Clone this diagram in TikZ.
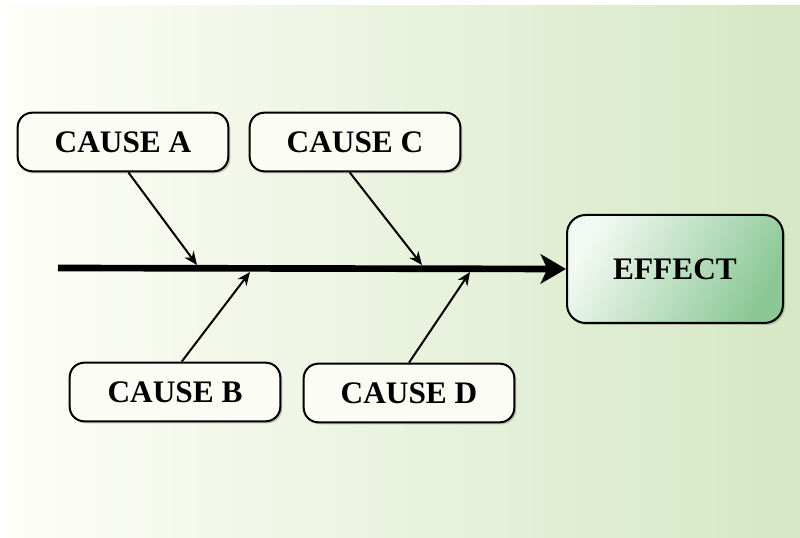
\documentclass[tikz,border=0pt]{standalone}
\usepackage{fontspec}
\setmainfont{Liberation Serif}
\usetikzlibrary{calc,shadows,arrows.meta}
\definecolor{bgleft}{HTML}{FEFEF8}
\definecolor{bgright}{HTML}{D5E7C4}
\definecolor{boxfill}{HTML}{FBFCF4}
\definecolor{effectlight}{HTML}{F2F9F2}
\definecolor{effectdark}{HTML}{8CC896}
\newcommand{\CauseW}{158pt}
\newcommand{\CauseH}{44pt}
\tikzset{Cause/.style={
    rounded corners=11pt,
    minimum width=\CauseW,
    minimum height=\CauseH,
    draw=black,
    line width=1.5pt,
    fill=boxfill,
    align=center,
    font=\bfseries\fontsize{23.5}{27}\selectfont,
    drop shadow={shadow xshift=1.5pt, shadow yshift=-1.5pt, opacity=0.35, fill=black!60},
    }
}

\begin{document}
\begin{tikzpicture}[x=0.75pt,y=-0.75pt,
    effect/.style={Cause,
    rounded corners=14pt,
    minimum width=162pt,
    minimum height=81pt,
    left color=effectlight,
    right color=effectdark,
    shading angle=60,
    },
    spine/.style={line width=5pt,-{Stealth[length=19pt,width=22pt,inset=5pt]}},
    bone/.style={line width=1.5pt,-{Stealth[length=10pt,width=8.5pt]}},
]
% background
\fill[white] (0,0) rectangle (800,538);
\shade[left color=bgleft,right color=bgright] (8,6) rectangle (800,538);
\useasboundingbox (0,0) rectangle (800,538);
% boxes
\node [Cause] (causeA) at (123,142) {CAUSE A};
\node [Cause] (causeC) at (355,142) {CAUSE C};
\node [Cause] (causeB) at (175,392) {CAUSE B};
\node [Cause] (causeD) at (409,393) {CAUSE D};
\node [effect] (effect) at (675,269) {EFFECT};
% spine and bones
\coordinate (tail) at (58,268);
\coordinate (hitA) at (197,265);
\coordinate (hitC) at (422,265);
\coordinate (hitB) at (250,272);
\coordinate (hitD) at (470,272);
\draw [spine] (tail) -- (effect.west);
\draw [bone] ([xshift=4pt]causeA.south) -- (hitA);
\draw [bone] ([xshift=-4pt]causeC.south) -- (hitC);
\draw [bone] ([xshift=5pt]causeB.north) -- (hitB);
\draw [bone] (causeD.north) -- (hitD);
\end{tikzpicture}
\end{document}
